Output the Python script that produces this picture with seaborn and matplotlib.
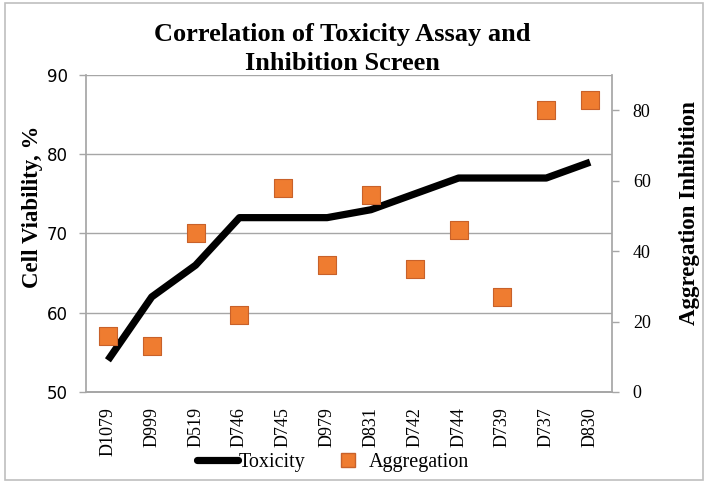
import matplotlib
matplotlib.use("Agg")
import matplotlib.pyplot as plt
import seaborn as sns
import pandas as pd
import numpy as np
from matplotlib.lines import Line2D
from matplotlib.patches import Rectangle

compounds = ["D1079", "D999", "D519", "D746", "D745", "D979", "D831",
             "D742", "D744", "D739", "D737", "D830"]
toxicity = [54, 62, 66, 72, 72, 72, 73, 75, 77, 77, 77, 79]
aggregation = [16, 13, 45, 22, 58, 36, 56, 35, 46, 27, 80, 83]
left_ticks = [50, 60, 70, 80, 90]
right_ticks = [0, 20, 40, 60, 80]

sns.set_theme(style="white")
plt.rcParams["font.family"] = ["Liberation Serif", "DejaVu Serif"]
plt.rcParams.update({"text.color": "black", "axes.labelcolor": "black",
                     "xtick.color": "black", "ytick.color": "black"})

df = pd.DataFrame({"pos": np.arange(len(compounds)), "compound": compounds,
                   "toxicity": toxicity, "aggregation": aggregation})

fig = plt.figure(figsize=(7.12, 4.87), dpi=100)
ax = fig.add_axes([0.1208, 0.1951, 0.8596 - 0.1208, 0.846 - 0.1951])
ax2 = ax.twinx()

grid_c = "#a6a6a6"
orange = "#ef7c30"

sns.lineplot(data=df, x="pos", y="toxicity", ax=ax, color="black",
             linewidth=5.2, solid_capstyle="butt", legend=False, zorder=3)
sns.scatterplot(data=df, x="pos", y="aggregation", ax=ax2, marker="s",
                s=150, color=orange, edgecolor="#c8612a", linewidth=0.8,
                legend=False, zorder=4)

ax.set_ylim(50, 90)
ax2.set_ylim(0, 90)
ax.set_xlim(-0.5, len(compounds) - 0.5)

ax.set_yticks(left_ticks)
ax.set_yticklabels([str(t) for t in left_ticks], family="DejaVu Sans", fontsize=12)
ax2.set_yticks(right_ticks)
ax2.set_yticklabels([str(t) for t in right_ticks], family="Liberation Serif", fontsize=13)

ax.set_xticks(np.arange(-0.5, len(compounds), 1.0))
ax.set_xticklabels([])
ax.set_xticks(np.arange(len(compounds)), minor=True)
ax.set_xticklabels(compounds, minor=True, rotation=90, fontsize=13,
                   family="Liberation Serif")
ax.tick_params(axis="x", which="minor", length=0, pad=11)
ax.tick_params(axis="x", which="major", length=5, width=1, color=grid_c, direction="out")
ax.tick_params(axis="y", length=5, width=1, color=grid_c, labelcolor="black",
               direction="out", pad=8)
ax2.tick_params(axis="y", length=5, width=1, color=grid_c, labelcolor="black",
                direction="out", pad=10)

ax.yaxis.grid(True, color=grid_c, linewidth=1)
ax.set_axisbelow(True)
for a in (ax, ax2):
    a.spines["top"].set_visible(False)
    a.spines["left"].set_color(grid_c)
    a.spines["right"].set_color(grid_c)
    a.spines["bottom"].set_color(grid_c)
    a.set_xlabel("")
ax2.spines["left"].set_visible(False)
ax.spines["right"].set_visible(False)

ax.set_ylabel("Cell Viability, %", fontsize=16.5, fontweight="bold", va="center")
ax.yaxis.set_label_coords((32 - 86) / 526, (392 - 207) / 317)
ax2.set_ylabel("Aggregation Inhibition", fontsize=16.5, fontweight="bold",
               rotation=90, va="center")
ax2.yaxis.set_label_coords((689 - 86) / 526, (392 - 213) / 317)

fig.text(0.481, 0.899, "Correlation of Toxicity Assay and\nInhibition Screen",
         ha="center", va="center", fontsize=19, fontweight="bold",
         linespacing=1.3)

handles = [Line2D([0], [0], color="black", linewidth=5.2),
           Line2D([0], [0], marker="s", linestyle="none", markersize=9.5,
                  markerfacecolor=orange, markeredgecolor="#c8612a")]
fig.legend(handles, ["Toxicity", "Aggregation"], loc="center",
           bbox_to_anchor=(0.468, 0.05), ncol=2, frameon=False,
           fontsize=14.5, handlelength=2.0, handletextpad=0.05, columnspacing=1.1)

fig.patches.append(Rectangle((5 / 712, 1 - 480 / 487), (703 - 5) / 712, (480 - 3) / 487,
                             transform=fig.transFigure, fill=False,
                             edgecolor="#bfbfbf", linewidth=1.2))

fig.savefig("out.png", dpi=100)
